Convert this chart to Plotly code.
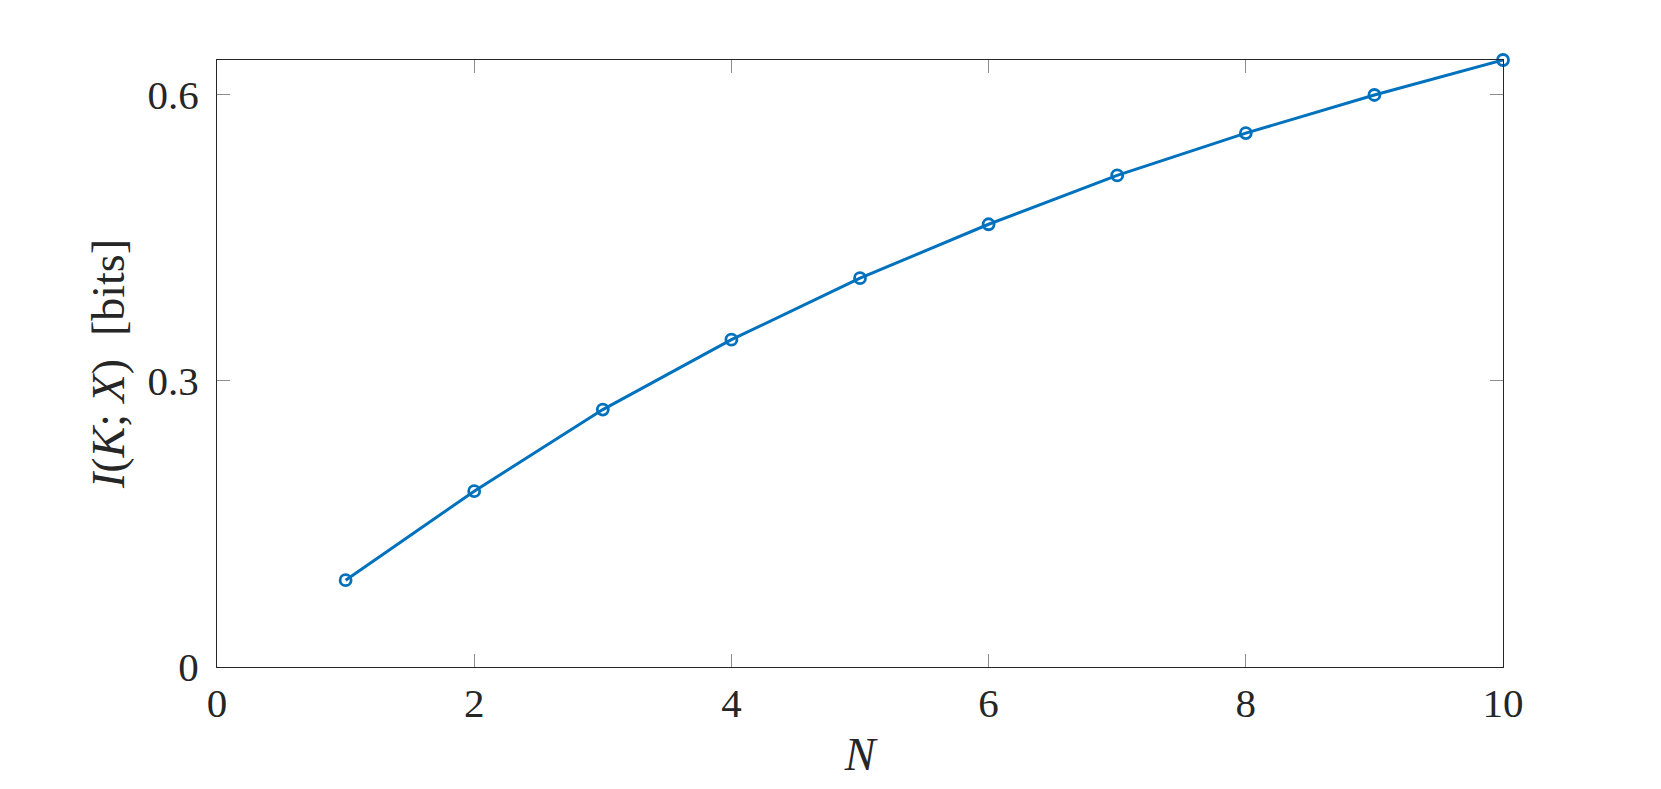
import plotly.graph_objects as go

N_values = [1, 2, 3, 4, 5, 6, 7, 8, 9, 10]
mutual_info_bits = [0.0911, 0.1844, 0.2700, 0.3433, 0.4078, 0.4644, 0.5156, 0.5600, 0.6000, 0.6367]

x_ticks = [0, 2, 4, 6, 8, 10]
y_ticks = [0, 0.3, 0.6]
y_tick_labels = ["0", "0.3", "0.6"]

FONT = "Liberation Serif"
LINE_COLOR = "#0072BD"

fig = go.Figure()
fig.add_trace(go.Scatter(
    x=N_values, y=mutual_info_bits, mode="lines+markers",
    line=dict(color=LINE_COLOR, width=3),
    marker=dict(symbol="circle-open", size=11, color=LINE_COLOR, line=dict(width=2.8, color=LINE_COLOR)),
    showlegend=False, cliponaxis=False,
))

axis_common = dict(
    showgrid=False, zeroline=False, showline=True, linecolor="#262626", linewidth=1.2,
    mirror="ticks", ticks="inside", ticklen=13, tickwidth=1.2, tickcolor="#8c8c8c",
    tickfont=dict(family=FONT, size=41, color="#262626"),
)

fig.update_layout(
    width=1661, height=789,
    paper_bgcolor="white", plot_bgcolor="white",
    margin=dict(l=209, r=166, t=52, b=130),
    xaxis=dict(range=[0, 10], tickvals=x_ticks, ticklabelstandoff=0,
               title=dict(text="<i>N</i>", font=dict(family=FONT, size=46, color="#262626"), standoff=12),
               **axis_common),
    yaxis=dict(range=[0, max(mutual_info_bits)], tickvals=y_ticks, ticktext=y_tick_labels, ticklabelstandoff=9,
               title=dict(text="<i>I</i>(<i>K</i>; <i>X</i>)  [bits]", font=dict(family=FONT, size=46, color="#262626"), standoff=8),
               **axis_common),
)

fig.write_html("out.html")
